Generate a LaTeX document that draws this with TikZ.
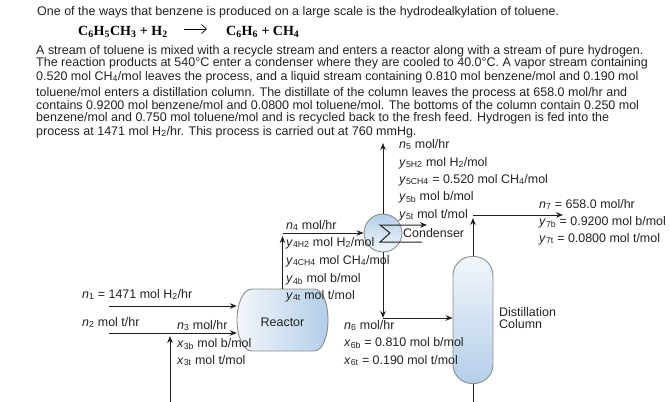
\documentclass[tikz,border=0pt]{standalone}
\usepackage{fontspec}
\setmainfont{Liberation Sans}
\newfontfamily\eqfont{Liberation Serif}
\usetikzlibrary{calc, arrows.meta}
\definecolor{inkgrey}{HTML}{222222}
\definecolor{unitblue}{HTML}{B4CEE9}
\definecolor{unitpale}{HTML}{F2F6FB}
\definecolor{unitedge}{HTML}{8C8C8C}
\tikzset{
	bodytext/.style={anchor=base west, inner sep=0pt, text=inkgrey, font=\fontsize{12.5}{14}\selectfont},
	streamtext/.style={anchor=base west, inner sep=0pt, text=inkgrey, font=\fontsize{12.45}{14}\selectfont},
	eqtext/.style={anchor=base west, inner sep=0pt, text=black, font=\eqfont\bfseries\fontsize{14}{16}\selectfont},
	flow/.style={draw=black!88, line width=1pt, -{Stealth[length=7,width=5.5]}},
	plainflow/.style={draw=black!88, line width=1pt},
	unitedgestyle/.style={draw=unitedge, line width=0.9pt}
}
\newcommand{\svar}[2]{\textit{#1}\textsubscript{#2}}
\newcommand{\lowr}[1]{\textsubscript{#1}}

\begin{document}
\begin{tikzpicture}[x=1pt, y=-1pt]
\useasboundingbox (0,0) rectangle (670,402);

% problem statement
\node[bodytext] (t0) at (37,15)   {One of the ways that benzene is produced on a large scale is the hydrodealkylation of toluene.};
\node[eqtext] (eqleft) at (78,35) {C\lowr{6}H\lowr{5}CH\lowr{3} + H\lowr{2}};
\node[eqtext] (eqright) at (226,35) {C\lowr{6}H\lowr{6} + CH\lowr{4}};
\draw[-{Straight Barb[length=5,width=9]}, line width=0.7pt] (184,29) -- (207,29);
\node[bodytext] (t1) at (36,54)   {A stream of toluene is mixed with a recycle stream and enters a reactor along with a stream of pure hydrogen.};
\node[bodytext] (t2) at (36,66.5) {The reaction products at 540°C enter a condenser where they are cooled to 40.0°C. A vapor stream containing};
\node[bodytext] (t3) at (36,80)   {0.520 mol CH\lowr{4}/mol leaves the process, and a liquid stream containing 0.810 mol benzene/mol and 0.190 mol};
\node[bodytext] (t4) at (36,96)   {toluene/mol enters a distillation column. The distillate of the column leaves the process at 658.0 mol/hr and};
\node[bodytext] (t5) at (36,109)  {contains 0.9200 mol benzene/mol and 0.0800 mol toluene/mol. The bottoms of the column contain 0.250 mol};
\node[bodytext] (t6) at (36,121)  {benzene/mol and 0.750 mol toluene/mol and is recycled back to the fresh feed. Hydrogen is fed into the};
\node[bodytext] (t7) at (36,135)  {process at 1471 mol H\lowr{2}/hr. This process is carried out at 760 mmHg.};

% units
\path[unitedgestyle, left color=unitpale, right color=unitblue]
	(252,289) -- (314,289) .. controls (323,289) and (328,304) .. (328,320)
	.. controls (328,336) and (323,351) .. (314,351) -- (252,351)
	.. controls (243,351) and (237,336) .. (237,320)
	.. controls (237,304) and (243,289) .. (252,289) -- cycle;
\node[inner sep=0pt, minimum width=91, minimum height=66, text=inkgrey, font=\fontsize{12.45}{14}\selectfont] (reactor) at (282.5,322) {Reactor};
\node[circle, unitedgestyle, top color=unitblue, bottom color=unitpale, minimum size=38, inner sep=0pt] (cond) at (383,233) {};
\node[rectangle, rounded corners=19, unitedgestyle, top color=unitpale, bottom color=unitblue, minimum width=40, minimum height=127, inner sep=0pt] (column) at (473,320) {};

\coordinate (n1start) at (109,306);
\coordinate (n2start) at (109,333);
\coordinate (recstart) at (170,402);
\coordinate (n5end) at (383,143);
\coordinate (n6corner) at (383,318);
\coordinate (n7end) at (563,215);
\coordinate (botend) at (473,402);

% streams
\draw[flow] (n1start) -- (reactor.west |- n1start);
\draw[flow] (n2start) -- (reactor.west |- n2start);
\draw[flow, shorten >=3] (recstart) -- (recstart |- n2start);
\draw[flow, shorten >=3] (reactor.north) -- (reactor.north |- cond);
\draw[flow] (reactor.north |- cond) -- (cond.west);
\draw[flow] (cond.north) -- (n5end);
\draw[flow] (cond.south) -- (n6corner);
\draw[flow] (n6corner) -- (column.west |- n6corner);
\draw[flow, shorten >=3] (column.north) -- (column.north |- n7end);
\draw[flow] (column.north |- n7end) -- (n7end);
\draw[plainflow] (column.south) -- (botend);

% sigma in the condenser
\draw[flow] (422,242) -- (380,242) -- (390,233) -- (380,225) -- (427,225);

% stream labels
\node[streamtext] (n1) at (82,298) {\svar{n}{1} = 1471 mol H\lowr{2}/hr};
\node[streamtext] (n2) at (82,326) {\svar{n}{2} mol t/hr};
\node[streamtext] (n3) at (177,329) {\svar{n}{3} mol/hr};
\node[streamtext] (x3b) at (177,347) {\svar{x}{3b} mol b/mol};
\node[streamtext] (x3t) at (177,364) {\svar{x}{3t} mol t/mol};

\node[streamtext] (n4) at (286,229) {\svar{n}{4} mol/hr};
\node[streamtext] (y4h) at (286,246) {\svar{y}{4H2} mol H\lowr{2}/mol};
\node[streamtext] (y4c) at (286,264) {\svar{y}{4CH4} mol CH\lowr{4}/mol};
\node[streamtext] (y4b) at (286,282) {\svar{y}{4b} mol b/mol};
\node[streamtext] (y4t) at (286,299) {\svar{y}{4t} mol t/mol};

\node[streamtext] (n5) at (399,148) {\svar{n}{5} mol/hr};
\node[streamtext] (y5h) at (399,166) {\svar{y}{5H2} mol H\lowr{2}/mol};
\node[streamtext] (y5c) at (399,183) {\svar{y}{5CH4} = 0.520 mol CH\lowr{4}/mol};
\node[streamtext] (y5b) at (399,200) {\svar{y}{5b} mol b/mol};
\node[streamtext] (y5t) at (399,218) {\svar{y}{5t} mol t/mol};
\node[streamtext] (condname) at (403,237) {Condenser};

\node[streamtext] (n6) at (344,329) {\svar{n}{6} mol/hr};
\node[streamtext] (x6b) at (344,346) {\svar{x}{6b} = 0.810 mol b/mol};
\node[streamtext] (x6t) at (344,364) {\svar{x}{6t} = 0.190 mol t/mol};

\node[streamtext] (n7) at (539,208) {\svar{n}{7} = 658.0 mol/hr};
\node[streamtext] (y7b) at (539,225) {\svar{y}{7b} = 0.9200 mol b/mol};
\node[streamtext] (y7t) at (539,242) {\svar{y}{7t} = 0.0800 mol t/mol};

\node[streamtext] (colname1) at (499,316) {Distillation};
\node[streamtext] (colname2) at (499,328) {Column};
\end{tikzpicture}
\end{document}
